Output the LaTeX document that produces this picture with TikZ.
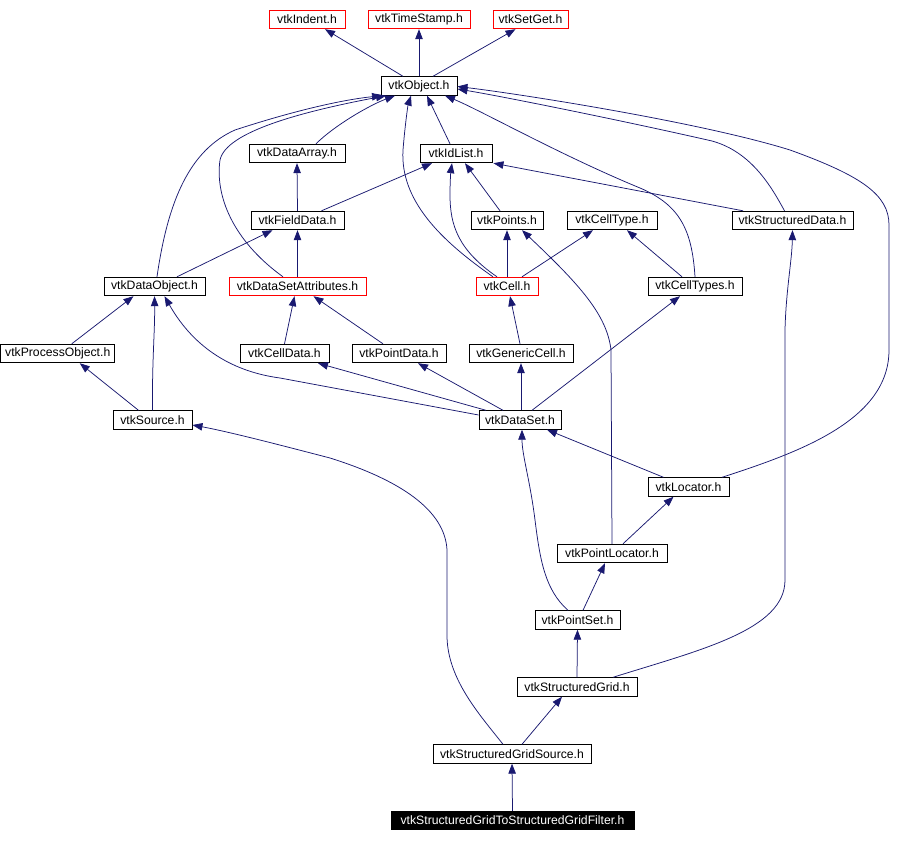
\documentclass[tikz,border=0pt]{standalone}
\usepackage{fontspec}
\setmainfont{Liberation Sans}
\usetikzlibrary{arrows.meta}
\definecolor{navy}{HTML}{191970}
\begin{document}
\begin{tikzpicture}[x=1pt,y=-1pt,
  box/.style={draw=black, line width=0.9pt, minimum height=18.5pt, inner sep=0pt, fill=white, font=\fontsize{12.2}{14}\selectfont},
  redbox/.style={box, draw=red},
  blackbox/.style={box, fill=black, text=white},
  dep/.style={draw=navy, line width=0.75pt, -{Triangle[length=10pt,width=7.5pt]}},
]
\useasboundingbox (0,0) rectangle (905,842);
% nodes
\node[redbox, minimum width=76pt]  (Indent)    at (307,19.5) {vtkIndent.h};
\node[redbox, minimum width=102pt] (TimeStamp) at (419,19.5) {vtkTimeStamp.h};
\node[redbox, minimum width=75pt]  (SetGet)    at (530.5,19.5) {vtkSetGet.h};
\node[box, minimum width=76pt]     (Object)    at (419,86) {vtkObject.h};
\node[box, minimum width=96pt]     (DataArray) at (297,153.5) {vtkDataArray.h};
\node[box, minimum width=72pt]     (IdList)    at (456,153.5) {vtkIdList.h};
\node[box, minimum width=93pt]     (FieldData) at (297.5,220.5) {vtkFieldData.h};
\node[box, minimum width=72pt]     (Points)    at (507,220.5) {vtkPoints.h};
\node[box, minimum width=90pt]     (CellType)  at (612,220.5) {vtkCellType.h};
\node[box, minimum width=121pt]    (StructuredData) at (792.5,220.5) {vtkStructuredData.h};
\node[box, minimum width=101pt]    (DataObject) at (154.5,286.5) {vtkDataObject.h};
\node[redbox, minimum width=137pt] (DSA)       at (297.5,286.5) {vtkDataSetAttributes.h};
\node[redbox, minimum width=62pt]  (Cell)      at (507,286.5) {vtkCell.h};
\node[box, minimum width=94pt]     (CellTypes) at (695,286.5) {vtkCellTypes.h};
\node[box, minimum width=114pt]    (ProcessObject) at (57.75,353.5) {vtkProcessObject.h};
\node[box, minimum width=89pt]     (CellData)  at (284.5,353.5) {vtkCellData.h};
\node[box, minimum width=94pt]     (PointData) at (399,353.5) {vtkPointData.h};
\node[box, minimum width=104pt]    (GenericCell) at (521,353.5) {vtkGenericCell.h};
\node[box, minimum width=79pt]     (Source)    at (152.5,420) {vtkSource.h};
\node[box, minimum width=82pt]     (DataSet)   at (520,420) {vtkDataSet.h};
\node[box, minimum width=81pt]     (Locator)   at (688.5,487) {vtkLocator.h};
\node[box, minimum width=110pt]    (PointLocator) at (612,553.5) {vtkPointLocator.h};
\node[box, minimum width=85pt]     (PointSet)  at (577.5,620) {vtkPointSet.h};
\node[box, minimum width=120pt]    (StructuredGrid) at (577,687) {vtkStructuredGrid.h};
\node[box, minimum width=158pt]    (SGSource)  at (512,754) {vtkStructuredGridSource.h};
\node[blackbox, minimum width=243pt] (Filter)  at (512.5,820.5) {vtkStructuredGridToStructuredGridFilter.h};
% edges
\draw[dep] ([xshift=-16pt]Object.north) -- ([xshift=18pt]Indent.south);
\draw[dep] (Object.north) -- (TimeStamp.south);
\draw[dep] ([xshift=14pt]Object.north) -- ([xshift=-15pt]SetGet.south);
\draw[dep] ([xshift=19pt]DataArray.north) .. controls (335,125) and (370,105) .. ([xshift=-24pt]Object.south);
\draw[dep] ([xshift=-6pt]IdList.north) -- ([xshift=8pt]Object.south);
\draw[dep] (FieldData.north) -- (DataArray.south);
\draw[dep] ([xshift=24pt]FieldData.north) -- ([xshift=-24pt]IdList.south);
\draw[dep] ([xshift=-7pt]Points.north) -- ([xshift=9pt]IdList.south);
\draw[dep] ([xshift=-14pt]Cell.north) .. controls (440,240) and (400,200) .. (403,150) .. controls (405,125) and (408,105) .. ([xshift=-8pt]Object.south);
\draw[dep] ([xshift=-10pt]Cell.north) .. controls (458,250) and (450,225) .. (450,195) .. controls (450,180) and (451,170) .. ([xshift=-4pt]IdList.south);
\draw[dep] (Cell.north) -- (Points.south);
\draw[dep] ([xshift=15pt]Cell.north) -- ([xshift=-19pt]CellType.south);
\draw[dep] ([xshift=-13pt]CellTypes.north) -- ([xshift=15pt]CellType.south);
\draw[dep] (CellTypes.north) .. controls (692,230) and (680,205) .. (640,188) .. controls (560,155) and (480,110) .. ([xshift=26pt]Object.south);
\draw[dep] ([xshift=-49.5pt]StructuredData.north) -- ([xshift=1pt]IdList.south east);
\draw[dep] ([xshift=-8pt]StructuredData.north) .. controls (772,188) and (752,152) .. (712,141) .. controls (620,120) and (500,96) .. ([yshift=-3pt]Object.east);
\draw[dep] ([xshift=33.5pt]Locator.north) .. controls (800,452) and (889,420) .. (889,350) -- (889,225) .. controls (889,195) and (862,176) .. (790,150) .. controls (700,122) and (520,94) .. ([yshift=-0.5pt]Object.east);
\draw[dep] ([xshift=2.5pt]DataObject.north) .. controls (168,200) and (190,150) .. (235,130) .. controls (290,112) and (340,100) .. ([xshift=-37pt]Object.south);
\draw[dep] ([xshift=-14.5pt]DSA.north) .. controls (232,240) and (215,195) .. (220,160) .. controls (226,132) and (300,112) .. ([xshift=-33pt]Object.south);
\draw[dep] ([xshift=22.5pt]DataObject.north) -- ([xshift=-25pt]FieldData.south);
\draw[dep] (DSA.north) -- (FieldData.south);
\draw[dep] ([xshift=14pt]ProcessObject.north) -- ([xshift=-21pt]DataObject.south);
\draw[dep] (Source.north) .. controls (152,360) and (155,330) .. (DataObject.south);
\draw[dep] ([xshift=-14pt]Source.north) -- ([xshift=22pt]ProcessObject.south);
\draw[dep] (CellData.north) -- ([xshift=-3pt]DSA.south);
\draw[dep] ([xshift=-16pt]PointData.north) -- ([xshift=16pt]DSA.south);
\draw[dep] ([yshift=5pt]DataSet.west) -- (280,378) .. controls (235,372) and (195,350) .. ([xshift=10pt]DataObject.south);
\draw[dep] ([xshift=-34pt]DataSet.north) -- ([xshift=33.5pt]CellData.south);
\draw[dep] ([xshift=-17pt]DataSet.north) -- ([xshift=19pt]PointData.south);
\draw[dep] ([xshift=1pt]DataSet.north) -- (GenericCell.south);
\draw[dep] ([xshift=12pt]DataSet.north) -- ([xshift=-15pt]CellTypes.south);
\draw[dep] ([xshift=-1pt]GenericCell.north) -- ([xshift=3pt]Cell.south);
\draw[dep] ([xshift=-25pt]Locator.north) -- ([xshift=27pt]DataSet.south);
\draw[dep] ([xshift=11pt]PointLocator.north) -- ([xshift=-15pt]Locator.south);
\draw[dep] (PointLocator.north) -- (611,350) .. controls (607,315) and (580,285) .. ([xshift=15pt]Points.south);
\draw[dep] ([xshift=-9.5pt]PointSet.north) .. controls (545,590) and (540,560) .. (535,520) .. controls (530,480) and (522,455) .. ([xshift=2pt]DataSet.south);
\draw[dep] ([xshift=5.5pt]PointSet.north) -- ([xshift=-7pt]PointLocator.south);
\draw[dep] (StructuredGrid.north) -- (PointSet.south);
\draw[dep] ([xshift=36pt]StructuredGrid.north) .. controls (700,650) and (785,630) .. (785,580) -- (785,330) .. controls (786,290) and (792,260) .. (StructuredData.south);
\draw[dep] ([xshift=10pt]SGSource.north) -- ([xshift=-15pt]StructuredGrid.south);
\draw[dep] ([xshift=-9pt]SGSource.north) .. controls (480,715) and (448,680) .. (447,637) -- (447,550) .. controls (445,510) and (400,480) .. (330,458) .. controls (280,445) and (230,432) .. ([yshift=-5pt]Source.east);
\draw[dep] (Filter.north) -- (SGSource.south);
\end{tikzpicture}
\end{document}
